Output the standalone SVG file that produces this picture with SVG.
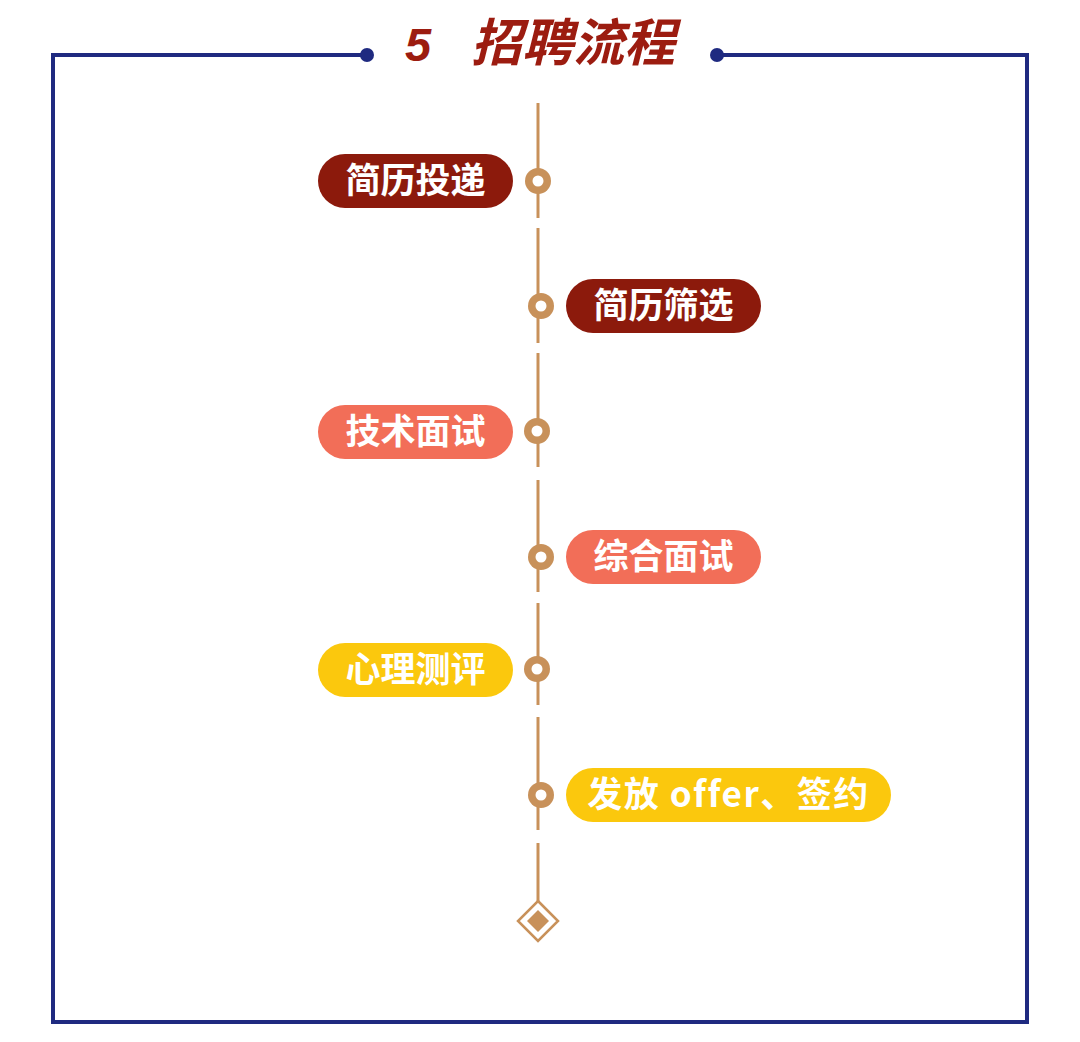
<svg xmlns="http://www.w3.org/2000/svg" width="1080" height="1042" viewBox="0 0 1080 1042">
<style>
.frame{fill:none;stroke:#1f2a80;stroke-width:4}
.title{font-family:"Liberation Sans","Noto Sans CJK SC",sans-serif;font-weight:bold;font-style:italic;fill:#9c1c10}
.tl{stroke:#c8915a;stroke-width:3;fill:none}
.pill-text{font-family:"Noto Sans CJK SC",sans-serif;font-weight:bold;font-size:35px;fill:#ffffff;text-anchor:middle}
.dr{fill:#8c1a0c}
.sa{fill:#f26e58}
.ye{fill:#fbc80d}
.knot{fill:#c8915a}
.hole{fill:#ffffff}
</style>
<rect width="1080" height="1042" fill="#ffffff"/>
<g id="frame">
<path class="frame" d="M367 55 H53 V1022 H1027 V55 H717"/>
<circle cx="367" cy="55" r="7" fill="#1f2a80"/>
<circle cx="717" cy="55" r="7" fill="#1f2a80"/>
</g>
<g id="title">
<text class="title" x="405" y="61" font-size="47">5</text>
<text class="title" x="471" y="61" font-size="51" font-family="Noto Sans CJK SC, sans-serif">招聘流程</text>
</g>
<g id="connectors">
<line class="tl" x1="538" y1="103" x2="538" y2="218"/>
<line class="tl" x1="538" y1="228" x2="538" y2="343"/>
<line class="tl" x1="538" y1="353" x2="538" y2="467"/>
<line class="tl" x1="538" y1="480" x2="538" y2="592"/>
<line class="tl" x1="538" y1="603" x2="538" y2="705"/>
<line class="tl" x1="538" y1="717" x2="538" y2="830"/>
<line class="tl" x1="538" y1="843" x2="538" y2="901"/>
</g>
<g id="end-diamond">
<path d="M538 901 L558 921 L538 941 L518 921 Z" fill="#ffffff" stroke="#c8915a" stroke-width="2.5"/>
<path d="M538 910 L549 921 L538 932 L527 921 Z" fill="#c8915a"/>
</g>
<g id="node-1">
<rect class="dr" x="318" y="154" width="195" height="54" rx="27"/>
<text class="pill-text" x="415.5" y="193">简历投递</text>
<circle class="knot" cx="538" cy="181" r="13"/><circle class="hole" cx="538" cy="181" r="5.5"/>
</g>
<g id="node-2">
<rect class="dr" x="566" y="279" width="195" height="54" rx="27"/>
<text class="pill-text" x="663.5" y="318">简历筛选</text>
<circle class="knot" cx="541" cy="306" r="13"/><circle class="hole" cx="541" cy="306" r="5.5"/>
</g>
<g id="node-3">
<rect class="sa" x="318" y="405" width="195" height="54" rx="27"/>
<text class="pill-text" x="415.5" y="444">技术面试</text>
<circle class="knot" cx="537" cy="431" r="13"/><circle class="hole" cx="537" cy="431" r="5.5"/>
</g>
<g id="node-4">
<rect class="sa" x="566" y="530" width="195" height="54" rx="27"/>
<text class="pill-text" x="663.5" y="569">综合面试</text>
<circle class="knot" cx="541" cy="557" r="13"/><circle class="hole" cx="541" cy="557" r="5.5"/>
</g>
<g id="node-5">
<rect class="ye" x="318" y="643" width="195" height="54" rx="27"/>
<text class="pill-text" x="415.5" y="682">心理测评</text>
<circle class="knot" cx="537" cy="669" r="13"/><circle class="hole" cx="537" cy="669" r="5.5"/>
</g>
<g id="node-6">
<rect class="ye" x="566" y="768" width="325" height="54" rx="27"/>
<text class="pill-text" x="728.5" y="807" letter-spacing="1.5">发放 offer、签约</text>
<circle class="knot" cx="541" cy="795" r="13"/><circle class="hole" cx="541" cy="795" r="5.5"/>
</g>
</svg>
